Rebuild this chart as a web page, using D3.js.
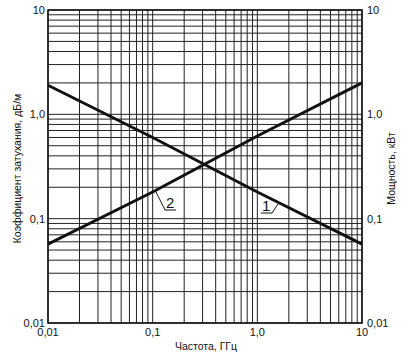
<!DOCTYPE html>
<html>
<head>
<meta charset="utf-8">
<script src="https://cdn.jsdelivr.net/npm/d3@7"></script>
<style>
  body { margin: 0; background: #fff; }
  text { font-family: "Liberation Sans", Arial, sans-serif; fill: #111; }
</style>
</head>
<body>
<div id="chart"></div>
<script>
// values
const freq = [0.01, 0.1, 1, 10];          // GHz
const attenuation = [1.9, 0.6, 0.18, 0.057]; // curve 1, dB/m
const power = [0.057, 0.18, 0.62, 2.0];      // curve 2, kW
const tickValues = [0.01, 0.1, 1, 10];
const tickLabels = ["0,01", "0,1", "1,0", "10"];

const width = 411, height = 363;
const margin = {top: 10, right: 49, bottom: 40, left: 48};

const svg = d3.select("#chart").append("svg")
    .attr("width", width)
    .attr("height", height);

const x = d3.scaleLog().domain([0.01, 10]).range([margin.left, width - margin.right]);
const y = d3.scaleLog().domain([0.01, 10]).range([height - margin.bottom, margin.top]);

// grid: 1..9 in every decade
const minor = [];
[0.01, 0.1, 1].forEach(d => { for (let k = 1; k < 10; k++) minor.push(d * k); });
minor.push(10);

const g = svg.append("g");
g.selectAll(".vx").data(minor).join("line")
    .attr("x1", d => x(d)).attr("x2", d => x(d))
    .attr("y1", y(0.01)).attr("y2", y(10))
    .attr("stroke", "#222").attr("stroke-width", 1);
g.selectAll(".hy").data(minor).join("line")
    .attr("y1", d => y(d)).attr("y2", d => y(d))
    .attr("x1", x(0.01)).attr("x2", x(10))
    .attr("stroke", "#222").attr("stroke-width", 1);

// frame
svg.append("rect")
    .attr("x", x(0.01)).attr("y", y(10))
    .attr("width", x(10) - x(0.01)).attr("height", y(0.01) - y(10))
    .attr("fill", "none").attr("stroke", "#111").attr("stroke-width", 1.5);

// curves
const line = d3.line().x(d => x(d[0])).y(d => y(d[1]));
svg.append("path").datum(d3.zip(freq, attenuation))
    .attr("d", line).attr("fill", "none").attr("stroke", "#111").attr("stroke-width", 3);
svg.append("path").datum(d3.zip(freq, power))
    .attr("d", line).attr("fill", "none").attr("stroke", "#111").attr("stroke-width", 3);

// curve markers
svg.append("path")
    .attr("d", "M155,190 L165,210 L176,210")
    .attr("fill", "none").attr("stroke", "#111").attr("stroke-width", 1);
svg.append("text").attr("x", 166).attr("y", 208).attr("font-size", 15).text("2");
svg.append("path")
    .attr("d", "M278,204 L272,213 L261,213")
    .attr("fill", "none").attr("stroke", "#111").attr("stroke-width", 1);
svg.append("text").attr("x", 262).attr("y", 211).attr("font-size", 15).text("1");

// tick labels
const fs = 11;
tickValues.forEach((v, i) => {
  svg.append("text").attr("x", x(0.01) - 3).attr("y", y(v) + 4)
      .attr("text-anchor", "end").attr("font-size", fs).text(tickLabels[i]);
  svg.append("text").attr("x", x(10) + 5).attr("y", y(v) + 4)
      .attr("text-anchor", "start").attr("font-size", fs).text(tickLabels[i]);
  svg.append("text").attr("x", x(v)).attr("y", y(0.01) + 13)
      .attr("text-anchor", "middle").attr("font-size", fs).text(tickLabels[i]);
});

// axis titles
svg.append("text").attr("x", (x(0.01) + x(10)) / 2 + 1).attr("y", 350)
    .attr("text-anchor", "middle").attr("font-size", 10.5).text("Частота, ГГц");
svg.append("text")
    .attr("transform", `translate(21,${(y(0.01) + y(10)) / 2 + 2}) rotate(-90)`)
    .attr("text-anchor", "middle").attr("font-size", 10.5).text("Коэффициент затухания, дБ/м");
svg.append("text")
    .attr("transform", `translate(395,${(y(0.01) + y(10)) / 2 + 2}) rotate(-90)`)
    .attr("text-anchor", "middle").attr("font-size", 10.5).text("Мощность, кВт");
</script>
</body>
</html>
